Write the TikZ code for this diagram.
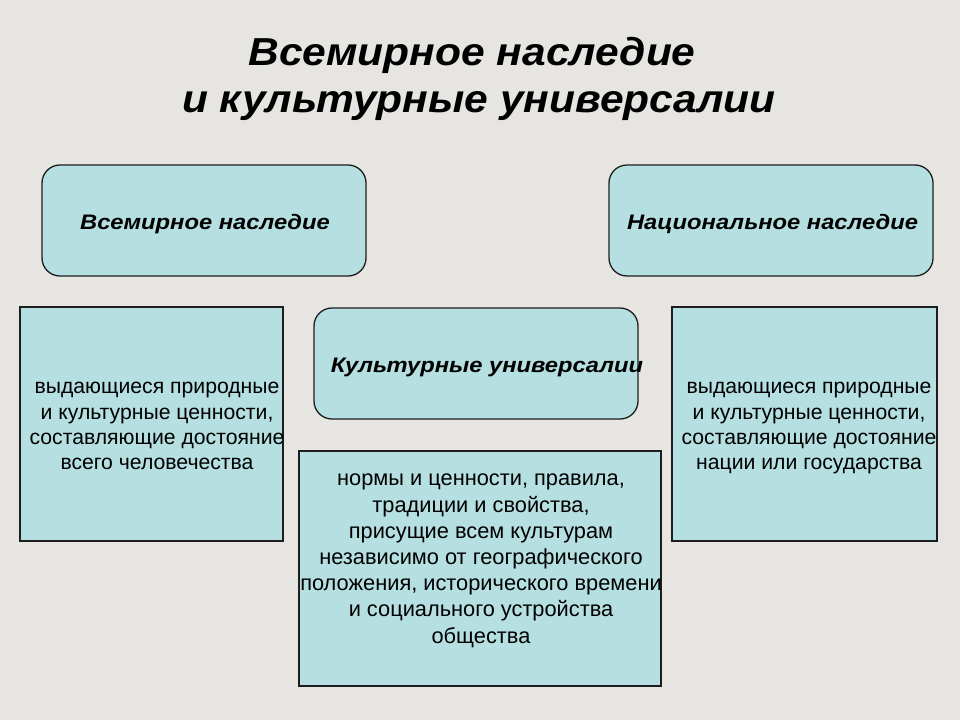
\documentclass[tikz,border=0pt]{standalone}
\usepackage{fontspec}
\setmainfont{Liberation Sans}
\newfontfamily\titlefont[FakeStretch=1.09]{Liberation Sans}
\newfontfamily\headfont[FakeStretch=1.13]{Liberation Sans}
\definecolor{bgc}{HTML}{E7E5E2}
\definecolor{boxc}{HTML}{B5DFE0}
\definecolor{edgec}{HTML}{1E1E1E}
\begin{document}
\begin{tikzpicture}[x=1pt,y=-1pt,
  rbox/.style={draw=edgec,line width=1.3pt,fill=boxc,rounded corners=18pt,inner sep=0pt},
  sbox/.style={draw=edgec,line width=1.1pt,fill=boxc,inner sep=0pt},
  ttl/.style={font=\titlefont\fontsize{39}{47}\selectfont\bfseries\itshape,inner sep=0pt,anchor=base},
  head/.style={font=\headfont\fontsize{21}{25}\selectfont\bfseries\itshape,inner sep=0pt,anchor=base},
  body/.style={font=\fontsize{21.2}{25.4}\selectfont,align=center,inner sep=0pt,anchor=north},
  cbody/.style={font=\fontsize{21.8}{26.2}\selectfont,align=center,inner sep=0pt,anchor=north}]
\fill[bgc] (0,0) rectangle (960,720);
\useasboundingbox (0,0) rectangle (960,720);
% title
\node[ttl] (title1) at (472,65) {Всемирное наследие};
\node[ttl] (title2) at (479,112) {и культурные универсалии};
% top boxes
\node[rbox,minimum width=324pt,minimum height=111pt] (wh) at (204,220.5) {};
\node[rbox,minimum width=324pt,minimum height=111pt] (nh) at (771,220.5) {};
\node[rbox,minimum width=324pt,minimum height=111pt] (cu) at (476,363.5) {};
\node[head] (whT) at (205,229) {Всемирное наследие};
\node[head] (nhT) at (772.5,229) {Национальное наследие};
\node[head] (cuT) at (487,372) {Культурные универсалии};
% text boxes
\node[sbox,minimum width=263pt,minimum height=234pt] (lb) at (151.5,424) {};
\node[sbox,minimum width=265pt,minimum height=234pt] (rb) at (804.5,424) {};
\node[sbox,minimum width=362pt,minimum height=235pt] (cb) at (480,568.5) {};
\node[body] (lbT) at (157,382)
  {выдающиеся природные\\и культурные ценности,\\составляющие достояние\\всего человечества};
\node[body] (rbT) at (809,382)
  {выдающиеся природные\\и культурные ценности,\\составляющие достояние\\нации или государства};
\node[cbody] (cbT) at (481,474)
  {нормы и ценности, правила,\\традиции и свойства,\\присущие всем культурам\\независимо от географического\\положения, исторического времени\\и социального устройства\\общества};
\end{tikzpicture}
\end{document}
